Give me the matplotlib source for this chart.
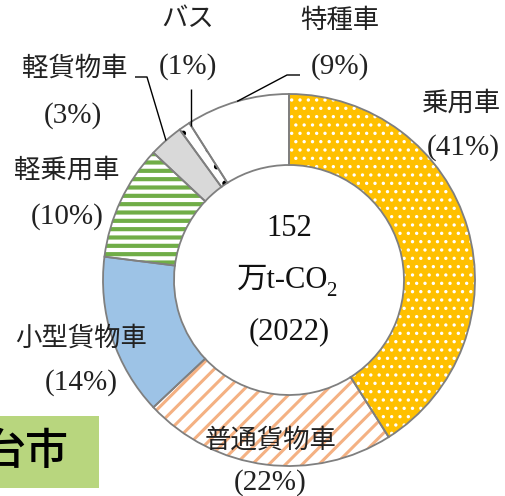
import numpy as np
import matplotlib
matplotlib.use("Agg")
import matplotlib.pyplot as plt
from matplotlib.patches import Rectangle

plt.rcParams["font.family"] = ["Liberation Serif", "Noto Sans CJK JP", "DejaVu Sans"]

# data
categories = ["乗用車", "普通貨物車", "小型貨物車", "軽乗用車", "軽貨物車", "バス", "特種車"]
shares = [41, 22, 14, 10, 3, 1, 9]
total_value = "152"
total_unit = "万t-CO"
total_year = "(2022)"

face_colors = ["#FFC000", "#FFFFFF", "#9DC3E6", "#FFFFFF", "#D9D9D9", "#FFFFFF", "#FFFFFF"]
hatch_colors = ["#FFFFFF", "#F4B183", "#9DC3E6", "#70AD47", "#D9D9D9", "#000000", "#FFFFFF"]
hatches = ["..", "//", None, "--", None, ".", None]
hatch_widths = [1.2, 2.2, 1.0, 3.0, 1.0, 1.5, 1.0]

W, H = 506, 496
cx, cy, R, ring = 289, H - 280, 186, 71

fig = plt.figure(figsize=(W / 100, H / 100), dpi=100)
ax = fig.add_axes([0, 0, 1, 1])

# fill + hatch layer
wedges, _ = ax.pie(shares, radius=R, center=(cx, cy), startangle=90,
                   counterclock=False, colors=face_colors,
                   wedgeprops=dict(width=ring, linewidth=0))
for w, hc, h, hw in zip(wedges, hatch_colors, hatches, hatch_widths):
    w.set_edgecolor(hc)
    w.set_linewidth(0)
    if h:
        w.set_hatch(h)
        if hasattr(w, "set_hatch_linewidth"):
            w.set_hatch_linewidth(hw)
        else:
            w._hatch_linewidth = hw

# outline layer
outlines, _ = ax.pie(shares, radius=R, center=(cx, cy), startangle=90,
                     counterclock=False,
                     wedgeprops=dict(width=ring, fill=False, edgecolor="#7F7F7F", linewidth=1.3))

ax.set_xlim(0, W)
ax.set_ylim(0, H)
ax.set_aspect("equal")
ax.axis("off")

# labels: (name xy, percent xy) in pixel positions from top
label_pos = {
    "乗用車": ((462, 103), (463, 148)),
    "普通貨物車": ((271, 440), (270, 483)),
    "小型貨物車": ((81, 338), (81, 383)),
    "軽乗用車": ((67, 170), (67, 217)),
    "軽貨物車": ((75, 68), (73, 116)),
    "バス": ((188, 20), (188, 67)),
    "特種車": ((340, 21), (340, 67)),
}
for name, pct in zip(categories, shares):
    (nx, ny), (px, py) = label_pos[name]
    ax.text(nx, H - ny, name, ha="center", va="center", fontsize=19, color="#222222")
    ax.text(px, H - py, f"({pct}%)", ha="center", va="center", fontsize=21, color="#222222")

# leader lines from wedge edge
def ring_point(w, frac=0.5):
    t = np.deg2rad(w.theta1 + (w.theta2 - w.theta1) * frac)
    return cx + R * np.cos(t), cy + R * np.sin(t)

leaders = {
    "軽貨物車": [(135, 77), (147, 77)],
    "バス": [(191, 89)],
    "特種車": [(300, 75), (287, 75)],
}
for name, pts in leaders.items():
    w = wedges[categories.index(name)]
    sx, sy = ring_point(w)
    xs = [p[0] for p in pts] + [sx]
    ys = [H - p[1] for p in pts] + [sy]
    if name == "バス":
        xs[-1] = xs[0]
    ax.plot(xs, ys, color="black", linewidth=1.0, solid_capstyle="butt")

# centre text
ax.text(cx, H - 228, total_value, ha="center", va="center", fontsize=22, color="#111111")
ax.text(cx, H - 332, total_year, ha="center", va="center", fontsize=22, color="#111111")
unit = ax.text(cx - 6, H - 280, total_unit, ha="center", va="center", fontsize=22, color="#111111")
r = fig.canvas.get_renderer()
bb = unit.get_window_extent(r)
ax.text(bb.x1 - 3, H - 292, "2", ha="left", va="center", fontsize=15, color="#111111")

# cropped city badge
ax.add_patch(Rectangle((0, H - 488), 99, 72, facecolor="#B8D67E", edgecolor="none"))
ax.text(68, H - 452, "台市", ha="right", va="center", fontsize=31,
        family=["Noto Sans CJK JP"], weight="medium", color="black")

fig.savefig("out.png", dpi=100)
